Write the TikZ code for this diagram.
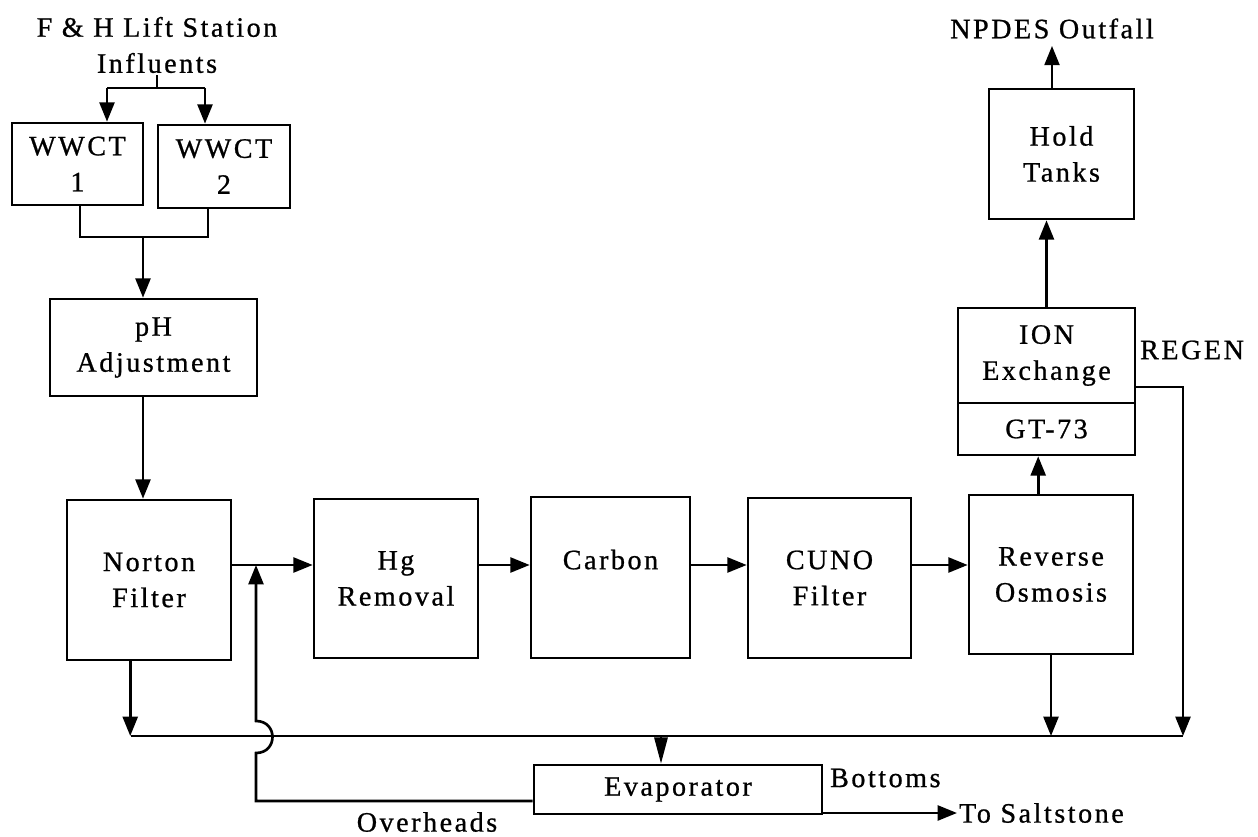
\documentclass[tikz,border=0pt]{standalone}
\usepackage{fontspec}
\setmainfont{Liberation Serif}[LetterSpace=9, FakeBold=0.8]
\usetikzlibrary{arrows.meta}

\begin{document}
\begin{tikzpicture}[%
        x = 0.02cm, y = -0.02cm,
        font = \fontsize{16pt}{20.5pt}\selectfont,
        unit/.style = {draw, line width = 1.5pt, align = center, inner sep = 2pt},
        pipe/.style = {line width = 1.5pt},
        flow/.style = {pipe, -{Triangle[length = 11pt, width = 8.5pt]}},
        drop/.style = {pipe, -{Triangle[length = 15pt, width = 7.5pt]}},
        tag/.style = {align = center, inner sep = 1pt}
    ]
        \useasboundingbox (0,0) rectangle (1258,837);

        % Process units.
        \node[unit, minimum width = 2.62cm, minimum height = 1.64cm] (wwct1) at (77.5,164) {WWCT\\1};
        \node[unit, minimum width = 2.64cm, minimum height = 1.66cm] (wwct2) at (224,166.5) {WWCT\\2};
        \node[unit, minimum width = 4.14cm, minimum height = 1.94cm] (ph) at (153.5,347.5) {pH\\Adjustment};
        \node[unit, minimum width = 3.28cm, minimum height = 3.2cm] (norton) at (149,580) {Norton\\Filter};
        \node[unit, minimum width = 3.28cm, minimum height = 3.18cm] (hg) at (396,578.5) {Hg\\Removal};
        \node[unit, minimum width = 3.18cm, minimum height = 3.22cm] (carbon) at (610.5,577.5) {Carbon\\\mbox{}};
        \node[unit, minimum width = 3.26cm, minimum height = 3.2cm] (cuno) at (829.5,578) {CUNO\\Filter};
        \node[unit, minimum width = 3.28cm, minimum height = 3.18cm] (ro) at (1051,574.5) {Reverse\\Osmosis};
        \node[unit, minimum width = 3.54cm, minimum height = 1.9cm] (ion) at (1046.5,355.5) {ION\\Exchange};
        \node[unit, minimum width = 3.54cm, minimum height = 1.04cm] (gt) at (1046.5,429) {GT-73};
        \node[unit, minimum width = 2.9cm, minimum height = 2.6cm] (hold) at (1061.5,154) {Hold\\Tanks};
        \node[unit, minimum width = 5.76cm, minimum height = 0.98cm] (evap) at (678,789.5) {Evaporator};

        % Stream labels.
        \node[tag] (lift) at (157,45) {F \& H Lift Station\\Influents};
        \node[tag, inner sep = 4pt] (npdes) at (1052,28.5) {NPDES Outfall};
        \node[tag, anchor = west] (regen) at (1138,350) {REGEN};
        \node[tag, anchor = west] (bottoms) at (828,778) {Bottoms};
        \node[tag, anchor = west] (salt) at (957,813) {To Saltstone};
        \node[tag] (overheads) at (427,822) {Overheads};

        % Bends and tees of the piping.
        \coordinate (split) at (157,88);
        \coordinate (w1in) at (107,88);
        \coordinate (w2in) at (205,88);
        \coordinate (j1) at (80,237);
        \coordinate (j2) at (208,237);
        \coordinate (merge) at (143,237);
        \coordinate (tee) at (256,565);
        \coordinate (cl) at (131,736);
        \coordinate (cr) at (1183,736);
        \coordinate (evin) at (661,736);
        \coordinate (rg) at (1183,387);
        \coordinate (ovh) at (256,801);
        \coordinate (hopbot) at (256,753);
        \coordinate (hoptop) at (256,721);

        % Influents into the two tanks.
        \draw[pipe] (lift.south) -- (split);
        \draw[pipe] (w1in) -- (w2in);
        \draw[flow] (w1in) -- (w1in |- wwct1.north);
        \draw[flow] (w2in) -- (w2in |- wwct2.north);

        % Tanks out to pH adjustment and filter.
        \draw[pipe] (j1 |- wwct1.south) -- (j1) -- (j2) -- (j2 |- wwct2.south);
        \draw[flow] (merge) -- (merge |- ph.north);
        \draw[flow] (ph.south -| merge) -- (norton.north -| merge);

        % Main treatment train.
        \foreach \a/\b in {norton/hg, hg/carbon, carbon/cuno, cuno/ro}{%
            \draw[flow] (tee -| \a.east) -- (tee -| \b.west);
        }
        \draw[flow] (ro.99) -- (ro.99 |- gt.south);
        \draw[flow] (ion.north) -- (ion.north |- hold.south);
        \draw[flow] (hold.north -| npdes.south) -- (npdes.south);

        % Reject streams to the evaporator.
        \draw[flow] (norton.257) -- (norton.257 |- cl);
        \draw[flow] (ro.south) -- (ro.south |- cl);
        \draw[flow] (rg -| ion.east) -- (rg) -- (cr);
        \draw[pipe] (cl) -- (cr);
        \draw[drop] (evin) -- (evin |- evap.north);

        % Evaporator overheads back and bottoms out.
        \draw[flow] (ovh -| evap.west) -- (ovh) -- (hopbot)
            .. controls +(22,0) and +(22,0) .. (hoptop) -- (tee);
        \draw[flow] (salt.west -| evap.east) -- (salt.west);
    \end{tikzpicture}
\end{document}
